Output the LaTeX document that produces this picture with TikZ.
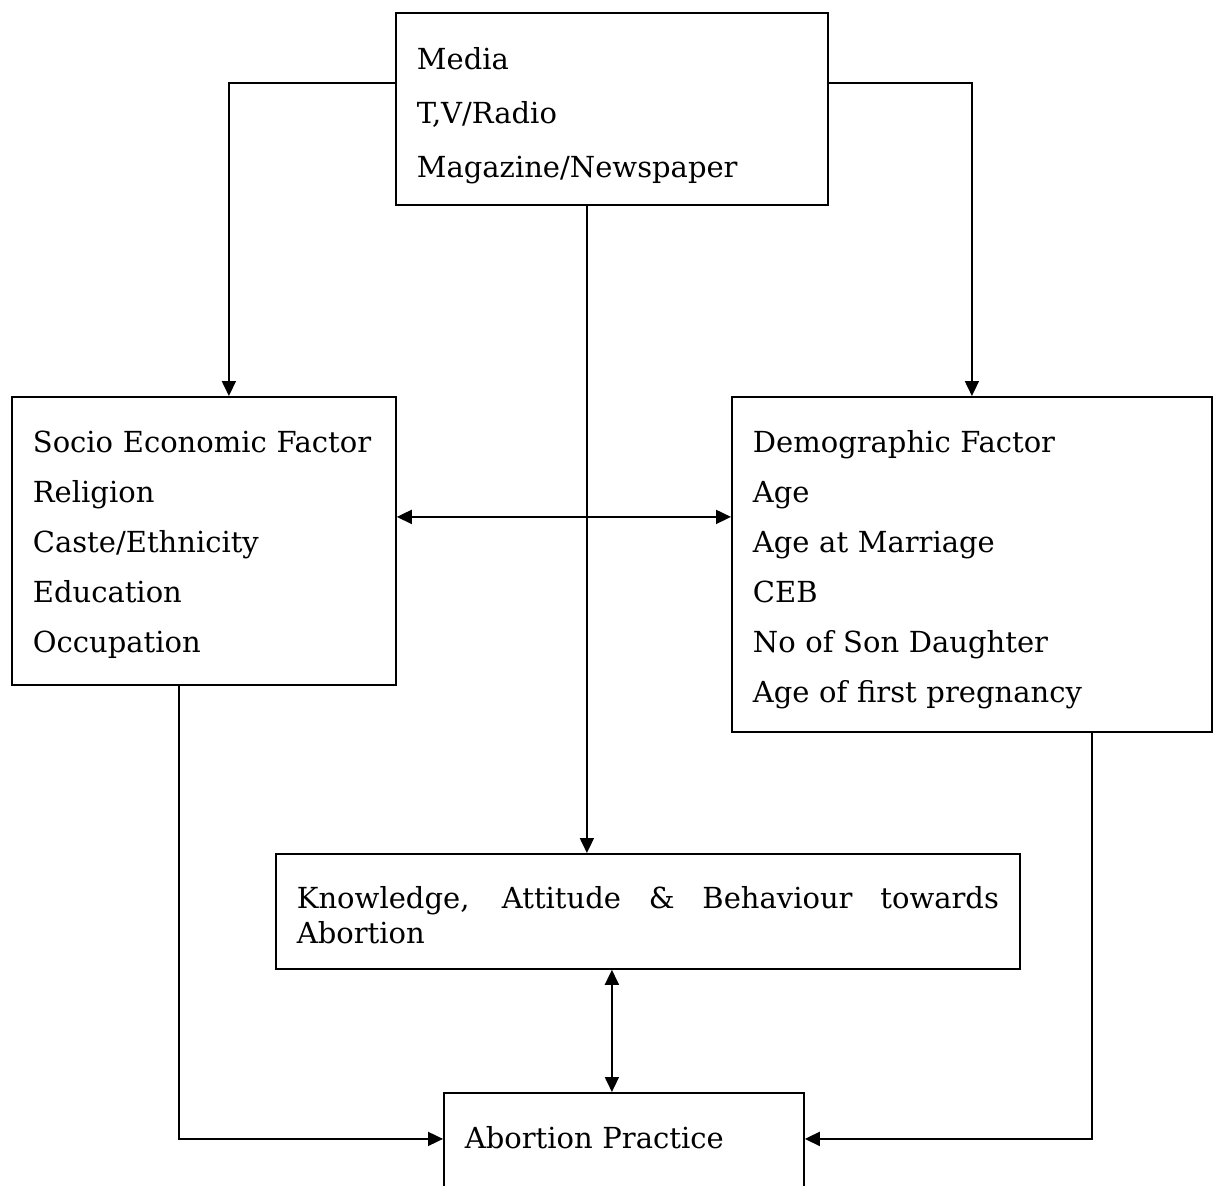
\documentclass[tikz,border=0pt]{standalone}
\usepackage{fontspec}
\setmainfont{DejaVu Serif}
\usepackage{tikz}
\usetikzlibrary{arrows.meta}

\begin{document}
\begin{tikzpicture}[x=1pt,y=-1pt,
    box/.style={draw, line width=0.9pt, anchor=north west, inner xsep=10.5pt, inner ysep=0pt,
                font=\fontsize{14.5}{25}\selectfont},
    arr/.style={line width=0.9pt, -{Triangle[length=7.5pt,width=7pt]}},
    darr/.style={line width=0.9pt, {Triangle[length=7.5pt,width=7pt]}-{Triangle[length=7.5pt,width=7pt]}}]
    \useasboundingbox (0,0) rectangle (606.5,592.5);
    % boxes
    \node[box, text width=195pt, align=left, text height=28.5pt, text depth=67.5pt,
          font=\fontsize{14.5}{27}\selectfont] (media) at (197.5,6)
          {Media\\T,V/Radio\\Magazine/Newspaper};
    \node[box, text width=171pt, align=left, text height=28pt, text depth=116pt] (socio) at (5.5,198)
          {Socio Economic Factor\\Religion\\Caste/Ethnicity\\Education\\Occupation};
    \node[box, text width=219pt, align=left, text height=28pt, text depth=139.5pt] (demo) at (365.5,198)
          {Demographic Factor\\Age\\Age at Marriage\\CEB\\No of Son Daughter\\Age of first pregnancy};
    \node[box, text width=351pt, align=justify, text height=27.5pt, text depth=30pt,
          font=\fontsize{14.5}{17.5}\selectfont] (know) at (137.5,426.5)
          {Knowledge, Attitude \& Behaviour towards\linebreak Abortion};
    \node[box, text width=159pt, align=left, text height=28pt, text depth=40pt] (prac) at (221.5,546)
          {Abortion Practice};
    % connectors
    \draw[arr] ([yshift=13pt]media.west) -| ([xshift=12.5pt]socio.north);
    \draw[arr] ([yshift=13pt]media.east) -| (demo.north);
    \draw[arr] ([xshift=-12.5pt]media.south) -- ([xshift=-12.5pt]media.south |- know.north);
    \draw[darr] ([yshift=12pt]socio.east) -- ([yshift=12pt]socio.east -| demo.west);
    \draw[darr] ([xshift=-18pt]know.south) -- ([xshift=-18pt]know.south |- prac.north);
    \draw[arr] ([xshift=-12.5pt]socio.south) |- ([yshift=5pt]prac.base west);
    \draw[arr] ([xshift=60pt]demo.south) |- ([yshift=5pt]prac.base east);
\end{tikzpicture}
\end{document}
